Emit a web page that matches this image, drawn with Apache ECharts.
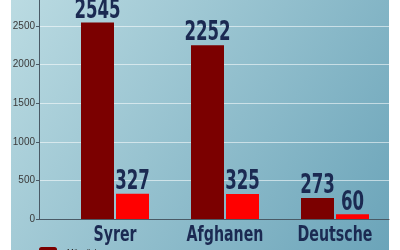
<!DOCTYPE html>
<html><head><meta charset="utf-8">
<script src="https://cdn.jsdelivr.net/npm/echarts@6/dist/echarts.min.js"></script>
<style>html,body{margin:0;padding:0;background:#fff}#c{width:400px;height:250px}</style>
</head><body><div id="c"></div>
<script>
const categories = ['Syrer', 'Afghanen', 'Deutsche'];
const maennlich = [2545, 2252, 273];
const weiblich = [327, 325, 60];
const seriesNames = ['Männlich', 'Weiblich'];
const yTicks = [0, 500, 1000, 1500, 2000, 2500];
const Y_MAX = 2837;

const navy = '#1b2a52';
const condFont = '"DejaVu Sans Condensed", "DejaVu Sans", sans-serif';
const BAR_W = 33, BAR_GAP = 2;
const chart = echarts.init(document.getElementById('c'), null, {renderer: 'canvas'});

function valueLabelSeries(values, side) {
  return {
    type: 'custom', xAxisIndex: 1, yAxisIndex: 1, silent: true, z: 5,
    data: values.map((v, i) => [i, v]),
    renderItem: (params, api) => {
      const p = api.coord([api.value(0), api.value(1)]);
      return {
        type: 'text', x: p[0] + side * (BAR_W + BAR_GAP) / 2, y: p[1] + 1.5,
        scaleX: 0.71,
        style: {text: String(api.value(1)), fill: navy, align: 'center', verticalAlign: 'bottom',
                font: 'bold 26px ' + condFont}
      };
    }
  };
}

chart.setOption({
  animation: false,
  backgroundColor: '#ffffff',
  graphic: [{
    type: 'rect', left: 11, top: 0, z: -10, silent: true,
    shape: {width: 378, height: 250},
    style: {fill: new echarts.graphic.LinearGradient(0, 0, 1, 1, [
      {offset: 0, color: '#bbdbe2'}, {offset: 1, color: '#6ba4b9'}])}
  }],
  grid: [
    {left: 39, right: 11, top: 0, bottom: 31},
    {left: 60, right: 10, top: 0, bottom: 31}
  ],
  legend: {
    orient: 'vertical', left: 39, top: 247, height: 60, padding: 0, itemWidth: 18, itemHeight: 10, itemGap: 4,
    data: seriesNames,
    textStyle: {fontSize: 8, color: '#222', fontFamily: 'Liberation Sans, Arial, sans-serif', padding: [-6, 0, 0, 5]}
  },
  xAxis: [
    {type: 'category', gridIndex: 0, data: [''],
     axisLine: {show: true, lineStyle: {color: '#4a5a66', width: 1}},
     axisTick: {show: false}, axisLabel: {show: false}},
    {type: 'category', gridIndex: 1, data: categories,
     axisLine: {show: false}, axisTick: {show: false}, axisLabel: {show: false}}
  ],
  yAxis: [
    {type: 'value', gridIndex: 0, min: 0, max: Y_MAX, interval: 500,
     axisLine: {show: true, lineStyle: {color: '#4a5a66', width: 1}},
     axisTick: {show: true, length: 3, lineStyle: {color: '#4a5a66'}},
     axisLabel: {color: '#3a3a3a', fontSize: 10, margin: 4, showMaxLabel: false,
       fontFamily: 'Liberation Sans, Arial, sans-serif',
       formatter: v => yTicks.includes(v) ? String(v) : ''},
     splitLine: {show: true, showMaxLine: false, lineStyle: {color: 'rgba(255,255,255,0.55)', width: 1}}},
    {type: 'value', gridIndex: 1, min: 0, max: Y_MAX, interval: 500, show: false,
     splitLine: {show: false}}
  ],
  series: [
    {name: seriesNames[0], type: 'bar', xAxisIndex: 1, yAxisIndex: 1, data: maennlich,
     barWidth: BAR_W, barGap: (BAR_GAP / BAR_W * 100) + '%', itemStyle: {color: '#7b0000'}},
    {name: seriesNames[1], type: 'bar', xAxisIndex: 1, yAxisIndex: 1, data: weiblich,
     barWidth: BAR_W, barGap: (BAR_GAP / BAR_W * 100) + '%', itemStyle: {color: '#ff0000'}},
    valueLabelSeries(maennlich, -1),
    valueLabelSeries(weiblich, 1),
    {
      type: 'custom', xAxisIndex: 1, yAxisIndex: 1, silent: true, z: 5,
      data: categories.map((c, i) => [i, 0]),
      renderItem: (params, api) => {
        const p = api.coord([api.value(0), 0]);
        return {
          type: 'text', x: p[0], y: p[1] + 6, scaleX: 0.77,
          style: {text: categories[params.dataIndex], fill: navy, align: 'center', verticalAlign: 'top',
                  font: 'bold 20.5px ' + condFont}
        };
      }
    }
  ]
});
</script></body></html>
